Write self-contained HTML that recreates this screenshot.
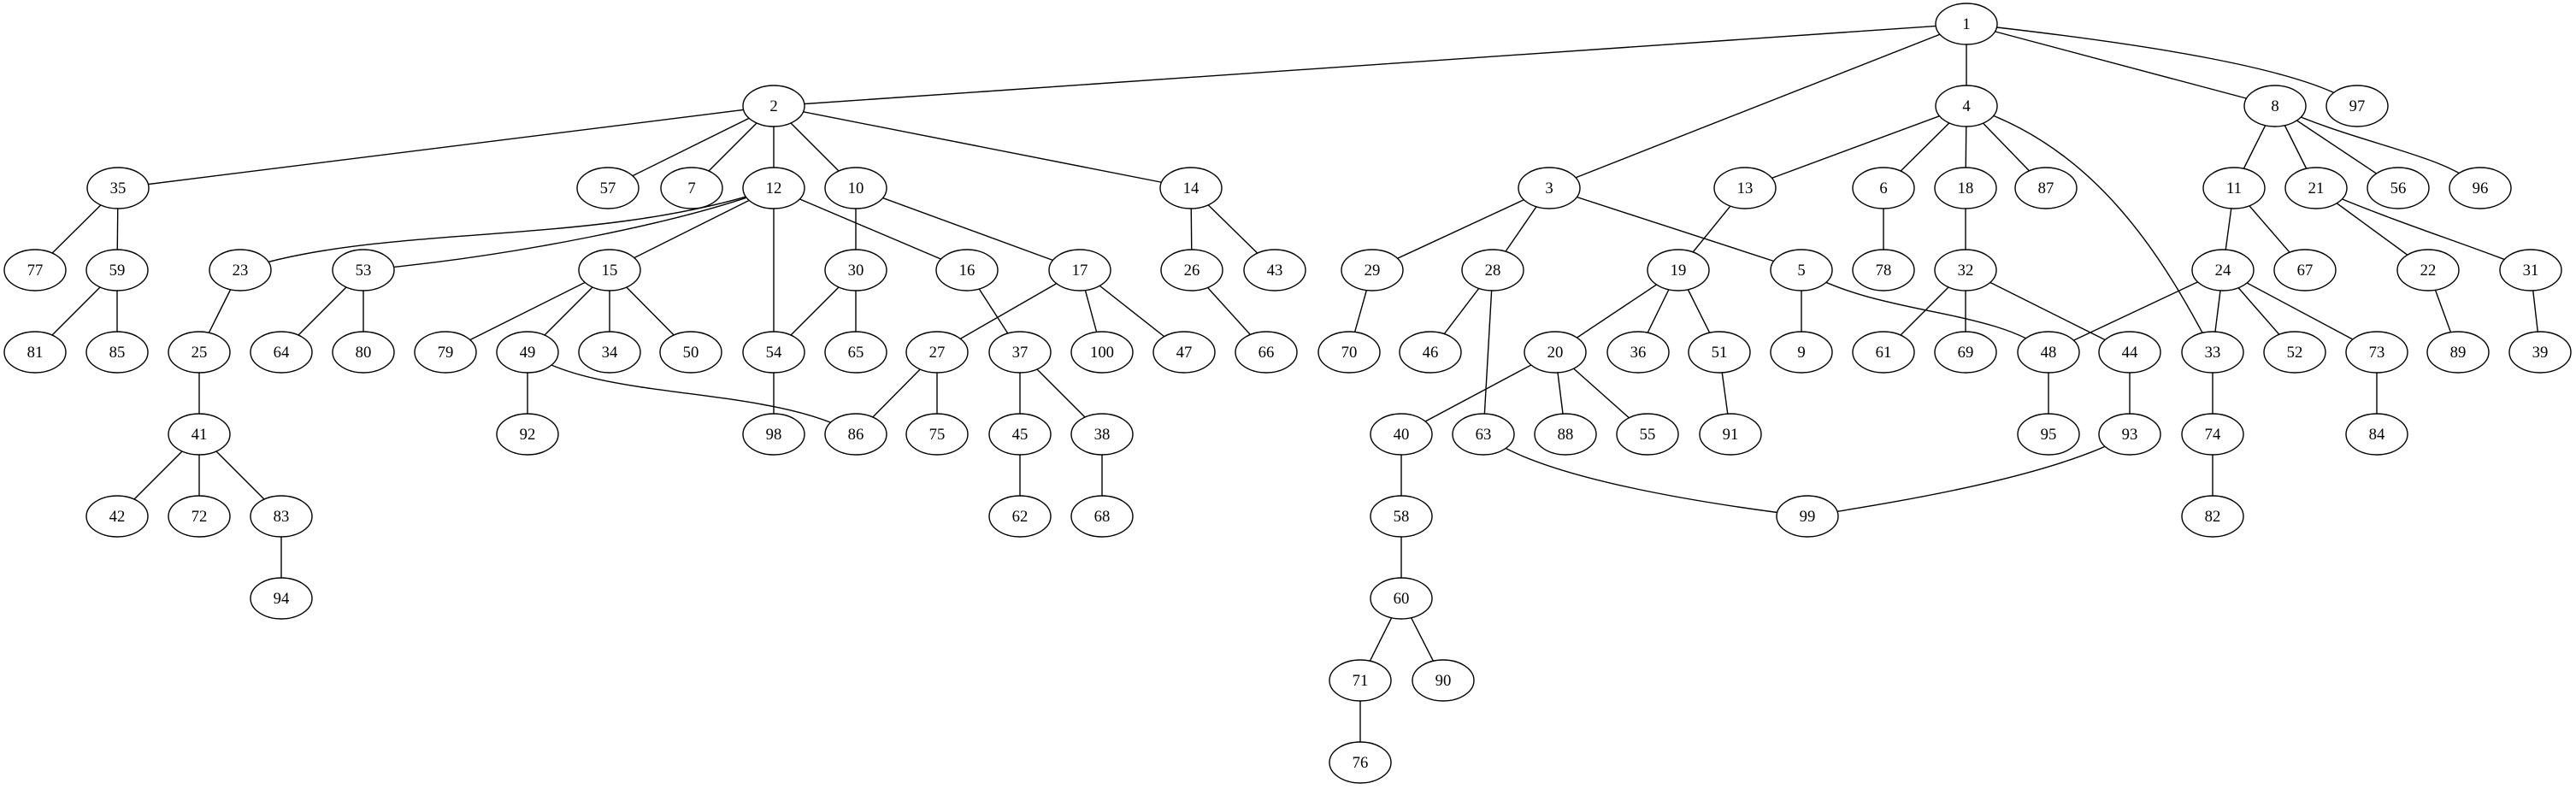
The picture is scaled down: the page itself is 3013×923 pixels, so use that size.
<!DOCTYPE html>
<html><head><meta charset="utf-8"><style>
html,body{margin:0;padding:0;background:#fff;}
svg{display:block;}
text{font-family:"Liberation Serif",serif;font-size:18.67px;text-anchor:middle;}
</style></head><body>
<svg width="3013" height="923" viewBox="0 0 3013 923" xmlns="http://www.w3.org/2000/svg">
<g stroke="#000" stroke-width="1.4" fill="none">
<line x1="2300" y1="28" x2="905" y2="124"/>
<line x1="2300" y1="28" x2="1812" y2="220"/>
<line x1="2300" y1="28" x2="2300" y2="124"/>
<line x1="2300" y1="28" x2="2661" y2="124"/>
<path d="M2300,28 C2500,50 2700,80 2757,124"/>
<line x1="905" y1="124" x2="138" y2="220"/>
<line x1="905" y1="124" x2="711" y2="220"/>
<line x1="905" y1="124" x2="809" y2="220"/>
<line x1="905" y1="124" x2="905" y2="220"/>
<line x1="905" y1="124" x2="1001" y2="220"/>
<line x1="905" y1="124" x2="1393" y2="220"/>
<line x1="2300" y1="124" x2="2041" y2="220"/>
<line x1="2300" y1="124" x2="2203" y2="220"/>
<line x1="2300" y1="124" x2="2299" y2="220"/>
<line x1="2300" y1="124" x2="2393" y2="220"/>
<path d="M2300,124 C2450,170 2530,300 2588,412"/>
<line x1="2661" y1="124" x2="2613" y2="220"/>
<line x1="2661" y1="124" x2="2709" y2="220"/>
<line x1="2661" y1="124" x2="2805" y2="220"/>
<path d="M2661,124 C2760,170 2860,180 2901,220"/>
<line x1="138" y1="220" x2="41" y2="316"/>
<line x1="138" y1="220" x2="137" y2="316"/>
<line x1="137" y1="316" x2="41" y2="412"/>
<line x1="137" y1="316" x2="137" y2="412"/>
<path d="M905,220 C700,290 450,260 281,316"/>
<path d="M905,220 C800,260 600,300 425,316"/>
<line x1="905" y1="220" x2="713" y2="316"/>
<line x1="905" y1="220" x2="1131" y2="316"/>
<line x1="905" y1="220" x2="905" y2="412"/>
<line x1="1001" y1="220" x2="1001" y2="316"/>
<line x1="1001" y1="220" x2="1263" y2="316"/>
<line x1="1393" y1="220" x2="1394" y2="316"/>
<line x1="1393" y1="220" x2="1491" y2="316"/>
<line x1="1812" y1="220" x2="1605" y2="316"/>
<line x1="1812" y1="220" x2="1746" y2="316"/>
<line x1="1812" y1="220" x2="2107" y2="316"/>
<line x1="2041" y1="220" x2="1963" y2="316"/>
<line x1="2203" y1="220" x2="2203" y2="316"/>
<line x1="2299" y1="220" x2="2299" y2="316"/>
<line x1="2613" y1="220" x2="2600" y2="316"/>
<line x1="2613" y1="220" x2="2696" y2="316"/>
<line x1="2709" y1="220" x2="2840" y2="316"/>
<path d="M2709,220 C2800,260 2900,290 2960,316"/>
<line x1="281" y1="316" x2="233" y2="412"/>
<line x1="425" y1="316" x2="329" y2="412"/>
<line x1="425" y1="316" x2="425" y2="412"/>
<line x1="713" y1="316" x2="521" y2="412"/>
<line x1="713" y1="316" x2="617" y2="412"/>
<line x1="713" y1="316" x2="713" y2="412"/>
<line x1="713" y1="316" x2="808" y2="412"/>
<line x1="1001" y1="316" x2="905" y2="412"/>
<line x1="1001" y1="316" x2="1001" y2="412"/>
<line x1="1131" y1="316" x2="1193" y2="412"/>
<line x1="1263" y1="316" x2="1096" y2="412"/>
<line x1="1263" y1="316" x2="1289" y2="412"/>
<line x1="1263" y1="316" x2="1385" y2="412"/>
<line x1="1394" y1="316" x2="1481" y2="412"/>
<line x1="1605" y1="316" x2="1578" y2="412"/>
<line x1="1746" y1="316" x2="1673" y2="412"/>
<line x1="1746" y1="316" x2="1735" y2="508"/>
<line x1="1963" y1="316" x2="1819" y2="412"/>
<line x1="1963" y1="316" x2="1916" y2="412"/>
<line x1="1963" y1="316" x2="2011" y2="412"/>
<line x1="2107" y1="316" x2="2107" y2="412"/>
<path d="M2107,316 C2200,370 2330,360 2396,412"/>
<line x1="2299" y1="316" x2="2203" y2="412"/>
<line x1="2299" y1="316" x2="2299" y2="412"/>
<line x1="2299" y1="316" x2="2491" y2="412"/>
<line x1="2600" y1="316" x2="2396" y2="412"/>
<line x1="2600" y1="316" x2="2588" y2="412"/>
<line x1="2600" y1="316" x2="2684" y2="412"/>
<line x1="2600" y1="316" x2="2780" y2="412"/>
<line x1="2840" y1="316" x2="2875" y2="412"/>
<line x1="2960" y1="316" x2="2971" y2="412"/>
<line x1="233" y1="412" x2="233" y2="508"/>
<line x1="617" y1="412" x2="617" y2="508"/>
<path d="M617,412 C700,470 900,450 1001,508"/>
<line x1="905" y1="412" x2="905" y2="508"/>
<line x1="1096" y1="412" x2="1001" y2="508"/>
<line x1="1096" y1="412" x2="1096" y2="508"/>
<line x1="1193" y1="412" x2="1193" y2="508"/>
<line x1="1193" y1="412" x2="1289" y2="508"/>
<line x1="1819" y1="412" x2="1639" y2="508"/>
<line x1="1819" y1="412" x2="1831" y2="508"/>
<line x1="1819" y1="412" x2="1927" y2="508"/>
<line x1="2011" y1="412" x2="2024" y2="508"/>
<line x1="2396" y1="412" x2="2396" y2="508"/>
<line x1="2491" y1="412" x2="2491" y2="508"/>
<line x1="2588" y1="412" x2="2588" y2="508"/>
<line x1="2780" y1="412" x2="2780" y2="508"/>
<line x1="233" y1="508" x2="137" y2="604"/>
<line x1="233" y1="508" x2="233" y2="604"/>
<line x1="233" y1="508" x2="329" y2="604"/>
<line x1="1193" y1="508" x2="1193" y2="604"/>
<line x1="1289" y1="508" x2="1289" y2="604"/>
<line x1="1639" y1="508" x2="1639" y2="604"/>
<path d="M1735,508 C1800,560 2000,590 2114,604"/>
<path d="M2491,508 C2400,560 2200,590 2114,604"/>
<line x1="2588" y1="508" x2="2588" y2="604"/>
<line x1="329" y1="604" x2="329" y2="700"/>
<line x1="1639" y1="604" x2="1639" y2="700"/>
<line x1="1639" y1="700" x2="1591" y2="796"/>
<line x1="1639" y1="700" x2="1688" y2="796"/>
<line x1="1591" y1="796" x2="1591" y2="892"/>
</g>
<g id="nodes" stroke="#000" stroke-width="1.4" fill="#fff">
<ellipse cx="2300" cy="28" rx="36" ry="24"/>
<ellipse cx="905" cy="124" rx="36" ry="24"/><ellipse cx="2300" cy="124" rx="36" ry="24"/><ellipse cx="2661" cy="124" rx="36" ry="24"/><ellipse cx="2757" cy="124" rx="36" ry="24"/>
<ellipse cx="138" cy="220" rx="36" ry="24"/><ellipse cx="711" cy="220" rx="36" ry="24"/><ellipse cx="809" cy="220" rx="36" ry="24"/><ellipse cx="905" cy="220" rx="36" ry="24"/><ellipse cx="1001" cy="220" rx="36" ry="24"/><ellipse cx="1393" cy="220" rx="36" ry="24"/><ellipse cx="1812" cy="220" rx="36" ry="24"/><ellipse cx="2041" cy="220" rx="36" ry="24"/><ellipse cx="2203" cy="220" rx="36" ry="24"/><ellipse cx="2299" cy="220" rx="36" ry="24"/><ellipse cx="2393" cy="220" rx="36" ry="24"/><ellipse cx="2613" cy="220" rx="36" ry="24"/><ellipse cx="2709" cy="220" rx="36" ry="24"/><ellipse cx="2805" cy="220" rx="36" ry="24"/><ellipse cx="2901" cy="220" rx="36" ry="24"/>
<ellipse cx="41" cy="316" rx="36" ry="24"/><ellipse cx="137" cy="316" rx="36" ry="24"/><ellipse cx="281" cy="316" rx="36" ry="24"/><ellipse cx="425" cy="316" rx="36" ry="24"/><ellipse cx="713" cy="316" rx="36" ry="24"/><ellipse cx="1001" cy="316" rx="36" ry="24"/><ellipse cx="1131" cy="316" rx="36" ry="24"/><ellipse cx="1263" cy="316" rx="36" ry="24"/><ellipse cx="1394" cy="316" rx="36" ry="24"/><ellipse cx="1491" cy="316" rx="36" ry="24"/><ellipse cx="1605" cy="316" rx="36" ry="24"/><ellipse cx="1746" cy="316" rx="36" ry="24"/><ellipse cx="1963" cy="316" rx="36" ry="24"/><ellipse cx="2107" cy="316" rx="36" ry="24"/><ellipse cx="2203" cy="316" rx="36" ry="24"/><ellipse cx="2299" cy="316" rx="36" ry="24"/><ellipse cx="2600" cy="316" rx="36" ry="24"/><ellipse cx="2696" cy="316" rx="36" ry="24"/><ellipse cx="2840" cy="316" rx="36" ry="24"/><ellipse cx="2960" cy="316" rx="36" ry="24"/>
<ellipse cx="41" cy="412" rx="36" ry="24"/><ellipse cx="137" cy="412" rx="36" ry="24"/><ellipse cx="233" cy="412" rx="36" ry="24"/><ellipse cx="329" cy="412" rx="36" ry="24"/><ellipse cx="425" cy="412" rx="36" ry="24"/><ellipse cx="521" cy="412" rx="36" ry="24"/><ellipse cx="617" cy="412" rx="36" ry="24"/><ellipse cx="713" cy="412" rx="36" ry="24"/><ellipse cx="808" cy="412" rx="36" ry="24"/><ellipse cx="905" cy="412" rx="36" ry="24"/><ellipse cx="1001" cy="412" rx="36" ry="24"/><ellipse cx="1096" cy="412" rx="36" ry="24"/><ellipse cx="1193" cy="412" rx="36" ry="24"/><ellipse cx="1289" cy="412" rx="36" ry="24"/><ellipse cx="1385" cy="412" rx="36" ry="24"/><ellipse cx="1481" cy="412" rx="36" ry="24"/><ellipse cx="1578" cy="412" rx="36" ry="24"/><ellipse cx="1673" cy="412" rx="36" ry="24"/><ellipse cx="1819" cy="412" rx="36" ry="24"/><ellipse cx="1916" cy="412" rx="36" ry="24"/><ellipse cx="2011" cy="412" rx="36" ry="24"/><ellipse cx="2107" cy="412" rx="36" ry="24"/><ellipse cx="2203" cy="412" rx="36" ry="24"/><ellipse cx="2299" cy="412" rx="36" ry="24"/><ellipse cx="2396" cy="412" rx="36" ry="24"/><ellipse cx="2491" cy="412" rx="36" ry="24"/><ellipse cx="2588" cy="412" rx="36" ry="24"/><ellipse cx="2684" cy="412" rx="36" ry="24"/><ellipse cx="2780" cy="412" rx="36" ry="24"/><ellipse cx="2875" cy="412" rx="36" ry="24"/><ellipse cx="2971" cy="412" rx="36" ry="24"/>
<ellipse cx="233" cy="508" rx="36" ry="24"/><ellipse cx="617" cy="508" rx="36" ry="24"/><ellipse cx="905" cy="508" rx="36" ry="24"/><ellipse cx="1001" cy="508" rx="36" ry="24"/><ellipse cx="1096" cy="508" rx="36" ry="24"/><ellipse cx="1193" cy="508" rx="36" ry="24"/><ellipse cx="1289" cy="508" rx="36" ry="24"/><ellipse cx="1639" cy="508" rx="36" ry="24"/><ellipse cx="1735" cy="508" rx="36" ry="24"/><ellipse cx="1831" cy="508" rx="36" ry="24"/><ellipse cx="1927" cy="508" rx="36" ry="24"/><ellipse cx="2024" cy="508" rx="36" ry="24"/><ellipse cx="2396" cy="508" rx="36" ry="24"/><ellipse cx="2491" cy="508" rx="36" ry="24"/><ellipse cx="2588" cy="508" rx="36" ry="24"/><ellipse cx="2780" cy="508" rx="36" ry="24"/>
<ellipse cx="137" cy="604" rx="36" ry="24"/><ellipse cx="233" cy="604" rx="36" ry="24"/><ellipse cx="329" cy="604" rx="36" ry="24"/><ellipse cx="1193" cy="604" rx="36" ry="24"/><ellipse cx="1289" cy="604" rx="36" ry="24"/><ellipse cx="1639" cy="604" rx="36" ry="24"/><ellipse cx="2114" cy="604" rx="36" ry="24"/><ellipse cx="2588" cy="604" rx="36" ry="24"/>
<ellipse cx="329" cy="700" rx="36" ry="24"/><ellipse cx="1639" cy="700" rx="36" ry="24"/>
<ellipse cx="1591" cy="796" rx="36" ry="24"/><ellipse cx="1688" cy="796" rx="36" ry="24"/>
<ellipse cx="1591" cy="892" rx="36" ry="24"/>
</g>
<g fill="#000">
<text x="2300" y="34">1</text>
<text x="905" y="130">2</text><text x="2300" y="130">4</text><text x="2661" y="130">8</text><text x="2757" y="130">97</text>
<text x="138" y="226">35</text><text x="711" y="226">57</text><text x="809" y="226">7</text><text x="905" y="226">12</text><text x="1001" y="226">10</text><text x="1393" y="226">14</text><text x="1812" y="226">3</text><text x="2041" y="226">13</text><text x="2203" y="226">6</text><text x="2299" y="226">18</text><text x="2393" y="226">87</text><text x="2613" y="226">11</text><text x="2709" y="226">21</text><text x="2805" y="226">56</text><text x="2901" y="226">96</text>
<text x="41" y="322">77</text><text x="137" y="322">59</text><text x="281" y="322">23</text><text x="425" y="322">53</text><text x="713" y="322">15</text><text x="1001" y="322">30</text><text x="1131" y="322">16</text><text x="1263" y="322">17</text><text x="1394" y="322">26</text><text x="1491" y="322">43</text><text x="1605" y="322">29</text><text x="1746" y="322">28</text><text x="1963" y="322">19</text><text x="2107" y="322">5</text><text x="2203" y="322">78</text><text x="2299" y="322">32</text><text x="2600" y="322">24</text><text x="2696" y="322">67</text><text x="2840" y="322">22</text><text x="2960" y="322">31</text>
<text x="41" y="418">81</text><text x="137" y="418">85</text><text x="233" y="418">25</text><text x="329" y="418">64</text><text x="425" y="418">80</text><text x="521" y="418">79</text><text x="617" y="418">49</text><text x="713" y="418">34</text><text x="808" y="418">50</text><text x="905" y="418">54</text><text x="1001" y="418">65</text><text x="1096" y="418">27</text><text x="1193" y="418">37</text><text x="1289" y="418">100</text><text x="1385" y="418">47</text><text x="1481" y="418">66</text><text x="1578" y="418">70</text><text x="1673" y="418">46</text><text x="1819" y="418">20</text><text x="1916" y="418">36</text><text x="2011" y="418">51</text><text x="2107" y="418">9</text><text x="2203" y="418">61</text><text x="2299" y="418">69</text><text x="2396" y="418">48</text><text x="2491" y="418">44</text><text x="2588" y="418">33</text><text x="2684" y="418">52</text><text x="2780" y="418">73</text><text x="2875" y="418">89</text><text x="2971" y="418">39</text>
<text x="233" y="514">41</text><text x="617" y="514">92</text><text x="905" y="514">98</text><text x="1001" y="514">86</text><text x="1096" y="514">75</text><text x="1193" y="514">45</text><text x="1289" y="514">38</text><text x="1639" y="514">40</text><text x="1735" y="514">63</text><text x="1831" y="514">88</text><text x="1927" y="514">55</text><text x="2024" y="514">91</text><text x="2396" y="514">95</text><text x="2491" y="514">93</text><text x="2588" y="514">74</text><text x="2780" y="514">84</text>
<text x="137" y="610">42</text><text x="233" y="610">72</text><text x="329" y="610">83</text><text x="1193" y="610">62</text><text x="1289" y="610">68</text><text x="1639" y="610">58</text><text x="2114" y="610">99</text><text x="2588" y="610">82</text>
<text x="329" y="706">94</text><text x="1639" y="706">60</text>
<text x="1591" y="802">71</text><text x="1688" y="802">90</text>
<text x="1591" y="898">76</text>
</g>
</svg>
</body></html>
